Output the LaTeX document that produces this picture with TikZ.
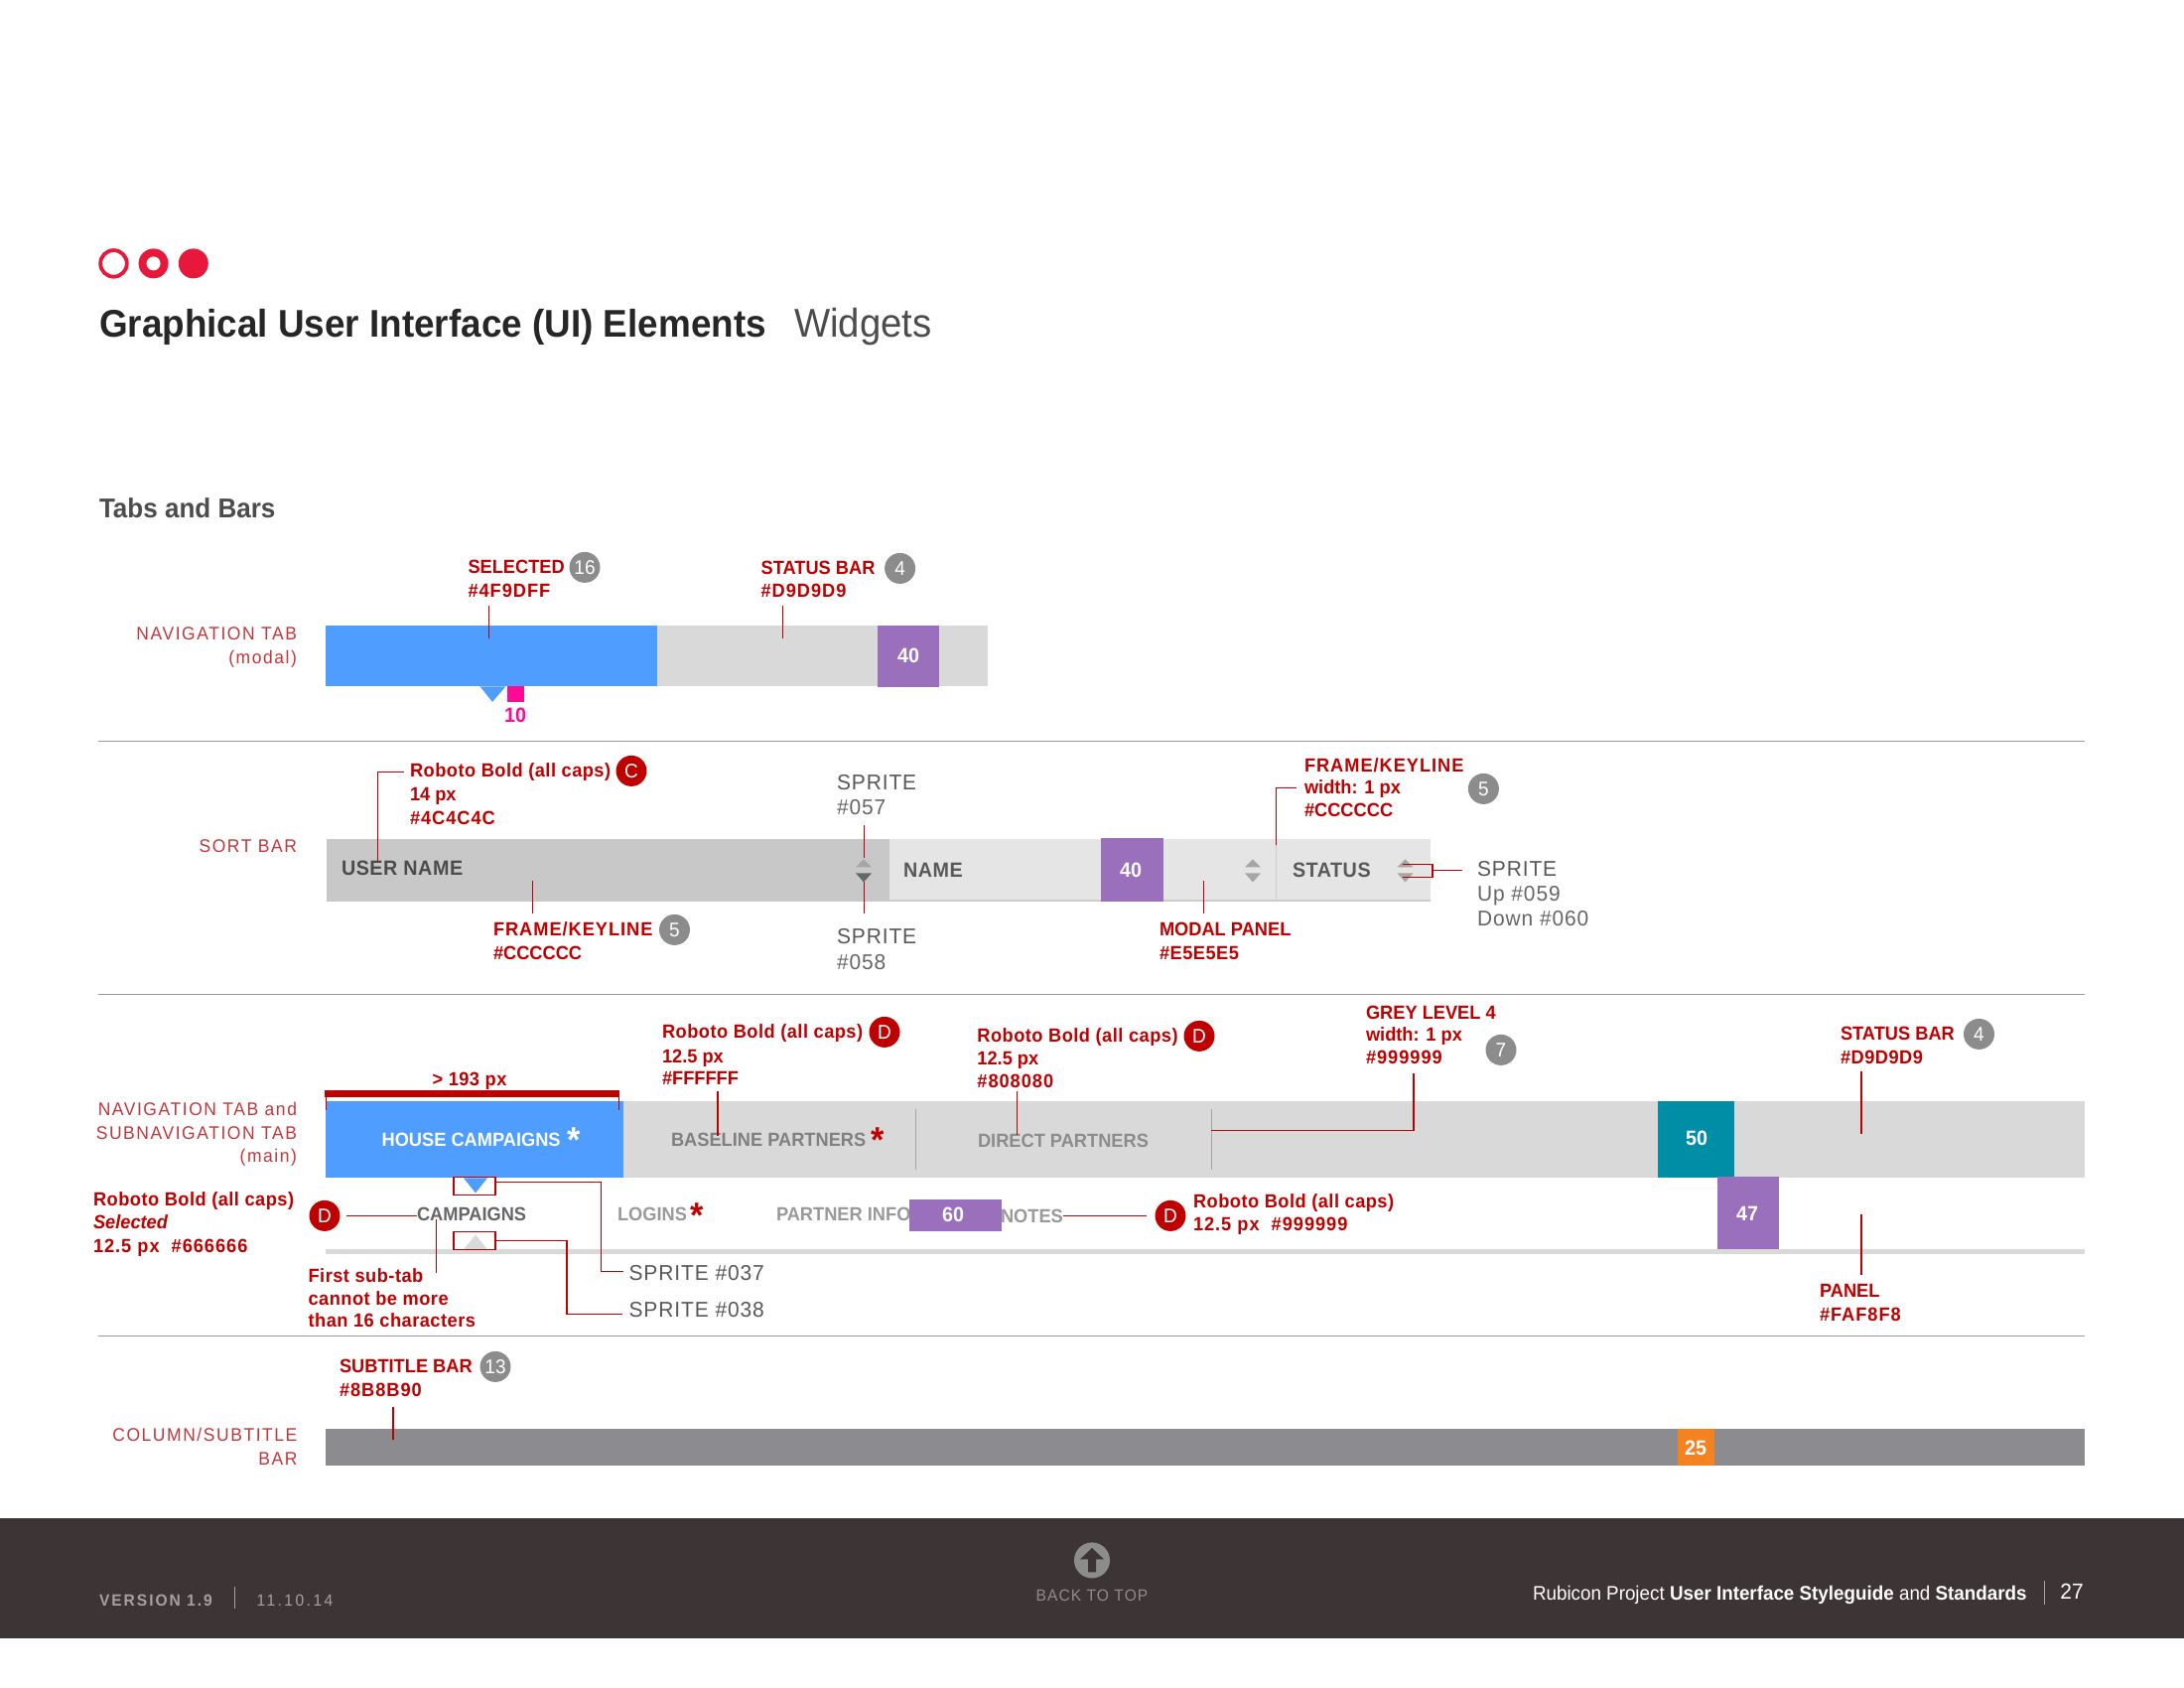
\documentclass[tikz,border=0pt]{standalone}
\usepackage{fontspec}
\setmainfont[FakeStretch=0.95]{Liberation Sans}
\newfontfamily\rspaced[LetterSpace=8.5,FakeStretch=0.95]{Liberation Sans}
\newfontfamily\rbw[LetterSpace=2.5,FakeStretch=0.95]{Liberation Sans}
\newfontfamily\rbh[LetterSpace=5,FakeStretch=0.95]{Liberation Sans}
\newfontfamily\rsp[LetterSpace=4.2,FakeStretch=0.97]{Liberation Sans}
\newfontfamily\rfa[LetterSpace=12,FakeStretch=0.95]{Liberation Sans}
\newfontfamily\rfb[LetterSpace=15,FakeStretch=0.95]{Liberation Sans}
\newfontfamily\rfc[LetterSpace=6.5,FakeStretch=0.95]{Liberation Sans}
\definecolor{rd}{HTML}{BF0000}
\definecolor{rdthin}{HTML}{C1373C}
\definecolor{dotred}{HTML}{E8183C}
\definecolor{bluetab}{HTML}{4F9DFF}
\definecolor{greybar}{HTML}{D9D9D9}
\definecolor{purp}{HTML}{9A6FBB}
\definecolor{keyln}{HTML}{CCCCCC}
\definecolor{modal}{HTML}{E5E5E5}
\definecolor{sortdk}{HTML}{C8C8C8}
\definecolor{teal2}{HTML}{008EA6}
\definecolor{subbar}{HTML}{8B8B90}
\definecolor{orng}{HTML}{F58220}
\definecolor{pinkm}{HTML}{FF0A96}
\definecolor{foot}{HTML}{3D3535}
\definecolor{badgegrey}{HTML}{8C8C8C}
\definecolor{txtgrey}{HTML}{666666}
\definecolor{sprdk}{HTML}{585858}
\definecolor{footgrey}{HTML}{A5A1A1}
\tikzset{
  txt/.style={inner sep=0pt,outer sep=0pt,anchor=west,text height=7pt,text depth=1pt},
  redb/.style={txt,text=rd,font=\fontsize{9.6}{11}\selectfont\bfseries},
  redw/.style={txt,text=rd,font=\fontsize{9.6}{11}\selectfont\rbw\bfseries},
  redh/.style={txt,text=rd,font=\fontsize{9.6}{11}\selectfont\rbh\bfseries},
  redr/.style={txt,anchor=east,text=rdthin,font=\fontsize{9.2}{11}\selectfont\rspaced},
  spr/.style={txt,text=txtgrey,font=\fontsize{10.8}{12}\selectfont\rsp},
  sprk/.style={txt,text=sprdk,font=\fontsize{10.8}{12}\selectfont\rsp},
  sprb/.style={txt,text=txtgrey,font=\fontsize{10.4}{12}\selectfont\rbw\bfseries},
  barb/.style={txt,font=\fontsize{9.6}{11}\selectfont\bfseries},
  num/.style={txt,anchor=center,text=white,font=\fontsize{10.4}{11}\selectfont\bfseries},
  badge/.style={circle,minimum size=15.5pt,inner sep=0pt,outer sep=0pt,text=white,font=\fontsize{10}{11}\selectfont},
  badgeg/.style={badge,fill=badgegrey},
  badger/.style={badge,fill=rd},
  lead/.style={draw=rd,line width=.55pt},
  footl/.style={txt,font=\fontsize{8.2}{10}\selectfont},
  staro/.style={inner sep=0pt,outer sep=0pt,font=\fontsize{18}{18}\selectfont\bfseries}
}
\begin{document}
\begin{tikzpicture}[x=0.5pt,y=-0.5pt]
\useasboundingbox (0,0) rectangle (2200,1700);
\fill[white] (0,0) rectangle (2200,1700);
\begin{scope}[yshift=-.7pt]
% header dots
\draw[dotred,line width=1.9pt,fill=white] (114.5,264) circle (13.3);
\fill[dotred] (154.6,264) circle (15);
\fill[white] (154.6,264) circle (7);
\fill[dotred] (194.8,264) circle (15);
\node[txt,text height=14pt,text=black!85,font=\fontsize{19.4}{24}\selectfont\bfseries] (title) at (100,325) {Graphical User Interface (UI) Elements};
\node[txt,text height=14pt,text=black!70,font=\fontsize{20.2}{24}\selectfont] (subtitle) at (800,325) {Widgets};
\node[txt,text height=10pt,text=black!70,font=\fontsize{13.7}{16}\selectfont\bfseries] (sect) at (100,511) {Tabs and Bars};
% separators
\coordinate (sl1a) at (99,745); \coordinate (sl1b) at (2100,745);
\coordinate (sl2a) at (99,1000); \coordinate (sl2b) at (2100,1000);
\coordinate (sl3a) at (99,1344); \coordinate (sl3b) at (2100,1344);
\draw[black!40,line width=.55pt] (sl1a)--(sl1b) (sl2a)--(sl2b) (sl3a)--(sl3b);
% ---- navigation tab modal
\fill[greybar] (662,629) rectangle (995,690);
\fill[bluetab] (328,629) rectangle (662,690);
\fill[bluetab] (483.6,690) -- (509.4,690) -- (496,705.5) -- cycle;
\fill[pinkm] (511,690) rectangle (528,705.5);
\node[txt,anchor=center,text=pinkm,font=\fontsize{10.4}{12}\selectfont\bfseries] (ten) at (519,720) {10};
\fill[purp] (884,629) rectangle (946,691);
\node[num] (n40a) at (915,660) {40};
\node[redr] (navt) at (299,637) {NAVIGATION TAB};
\node[redr] (navm) at (299,661) {(modal)};
\node[redb] (sel) at (471.5,570) {SELECTED};
\node[redh] (selc) at (471.5,594) {\#4F9DFF};
\node[badgeg] (b16) at (589,570) {16};
\node[redb] (stat1) at (766.6,571) {STATUS BAR};
\node[redh] (stat1c) at (766.6,594) {\#D9D9D9};
\node[badgeg] (b4a) at (906.6,571) {4};
\coordinate (l1a) at (492.7,609); \coordinate (l1b) at (492.7,642);
\coordinate (l2a) at (788.4,609); \coordinate (l2b) at (788.4,642);
\draw[lead] (l1a)--(l1b);
\draw[lead] (l2a)--(l2b);
% ---- sort bar
\fill[keyln] (896,843.3) rectangle (1441,907);
\fill[modal] (896,843.3) rectangle (1441,904.5);
\fill[sortdk] (328.5,843.3) rectangle (896,907);
\fill[purp] (1109,843) rectangle (1172,907);
\draw[black!20,line width=.6pt] (1285.5,843.3) -- (1285.5,905);
\node[num] (n40b) at (1139,876) {40};
\node[sprb,text=black!70] (un) at (344,874) {USER NAME};
\node[sprb,text=black!65] (nm) at (910,876) {NAME};
\node[sprb,text=black!65] (st) at (1302,876) {STATUS};
\fill[black!35] (862,872) -- (878,872) -- (870,864) -- cycle;
\fill[black!60] (862,878) -- (878,878) -- (870,887) -- cycle;
\fill[black!35] (1254,872) -- (1270,872) -- (1262,864) -- cycle;
\fill[black!35] (1254,878) -- (1270,878) -- (1262,887) -- cycle;
\fill[black!35] (1407.5,872) -- (1423.5,872) -- (1415.5,864) -- cycle;
\fill[black!35] (1407.5,878) -- (1423.5,878) -- (1415.5,887) -- cycle;
\node[redr] (sortl) at (299,851) {SORT BAR};
\node[redw] (rbc) at (413,775) {Roboto Bold (all caps)};
\node[redb] (rbc2) at (413,799) {14 px};
\node[redh] (rbc3) at (413,823) {\#4C4C4C};
\node[badger] (bC) at (636,775) {C};
\coordinate (l3a) at (406.5,776); \coordinate (l3b) at (380.5,867);
\draw[lead] (l3a) -| (l3b);
\node[redh] (fk1) at (497,935) {FRAME/KEYLINE};
\node[redb] (fk1c) at (497,959) {\#CCCCCC};
\node[badgeg] (b5a) at (679.5,935) {5};
\coordinate (l4a) at (536.6,886); \coordinate (l4b) at (536.6,919);
\draw[lead] (l4a)--(l4b);
\node[sprk] (s57) at (843,788) {SPRITE};
\node[spr] (s57c) at (843,813) {\#057};
\node[sprk] (s58) at (843,943) {SPRITE};
\node[spr] (s58c) at (843,969) {\#058};
\coordinate (l5a) at (870.8,830); \coordinate (l5b) at (870.8,863);
\coordinate (l6a) at (870.8,887); \coordinate (l6b) at (870.8,919);
\draw[lead] (l5a)--(l5b);
\draw[lead] (l6a)--(l6b);
\node[redh] (fk2) at (1314,770) {FRAME/KEYLINE};
\node[redb] (fk22) at (1314,792) {width: 1 px};
\node[redb] (fk23) at (1314,815) {\#CCCCCC};
\node[badgeg] (b5b) at (1494.4,793) {5};
\coordinate (l7a) at (1306,792); \coordinate (l7b) at (1285.5,850);
\draw[lead] (l7a) -| (l7b);
\node[redb] (mp) at (1168,935) {MODAL PANEL};
\node[redw] (mpc) at (1168,959) {\#E5E5E5};
\coordinate (l8a) at (1212.5,886); \coordinate (l8b) at (1212.5,919);
\draw[lead] (l8a)--(l8b);
\coordinate (br1) at (1413,869); \coordinate (br2) at (1413,882);
\coordinate (br3) at (1443,875); \coordinate (br4) at (1472.5,875);
\draw[lead] (br1) -- (br1 -| br3) -- (br2 -| br3) -- (br2);
\draw[lead] (br3)--(br4);
\node[sprk] (s59) at (1488,875) {SPRITE};
\node[spr] (s59a) at (1488,900) {Up \#059};
\node[spr] (s59b) at (1488,925) {Down \#060};
% ---- main navigation
\fill[greybar] (628,1108) rectangle (2100,1185);
\fill[bluetab] (328,1108) rectangle (628,1185);
\fill[teal2] (1670,1108) rectangle (1747,1185);
\node[num] (n50) at (1709,1146) {50};
\draw[black!35,line width=.5pt] (922,1116)--(922,1177) (1220,1116)--(1220,1177);
\fill[greybar] (328,1257) rectangle (2100,1262);
\node[barb,text=white] (hc) at (384.6,1147) {HOUSE CAMPAIGNS};
\node[staro,text=white] (st1) at (578,1146.5) {*};
\node[barb,text=black!50] (bp) at (676,1147) {BASELINE PARTNERS};
\node[staro,text=rd] (st2) at (884,1146.5) {*};
\node[barb,text=black!45] (dp) at (985,1148) {DIRECT PARTNERS};
\node[barb,text=txtgrey] (cp) at (420,1222) {CAMPAIGNS};
\node[barb,text=black!40] (lg) at (622,1222) {LOGINS};
\node[staro,text=rd] (st3) at (702,1222.5) {*};
\node[barb,text=black!40] (pi) at (782,1222) {PARTNER INFO};
\node[barb,text=black!40] (nt) at (1008,1224) {NOTES};
\fill[purp] (916,1207) rectangle (1009,1239);
\node[num] (n60) at (960,1223) {60};
\fill[purp] (1730,1184) rectangle (1792,1257);
\node[num] (n47) at (1760,1222) {47};
% red measure
\fill[rd] (327,1097) rectangle (624,1104);
\coordinate (t1a) at (328,1104); \coordinate (t1b) at (328,1117);
\coordinate (t2a) at (623.4,1104); \coordinate (t2b) at (623.4,1117);
\draw[rd,line width=.5pt] (t1a)--(t1b) (t2a)--(t2b);
\node[redw,anchor=center] (px) at (473,1086) {> 193 px};
\node[redr] (nv1) at (299,1116) {NAVIGATION TAB and};
\node[redr] (nv2) at (299,1140) {SUBNAVIGATION TAB};
\node[redr] (nv3) at (299,1163) {(main)};
\node[redw] (lf1) at (94,1207) {Roboto Bold (all caps)};
\node[redb,font=\fontsize{9.6}{11}\selectfont\bfseries\itshape] (lf2) at (94,1230) {Selected};
\node[redh] (lf3) at (94,1254) {12.5 px~~\#666666};
\node[badger] (bD1) at (327,1223) {D};
\coordinate (l9) at (420,1223);
\draw[lead] (bD1.east) ++(6,0) coordinate (l9s) (l9s) -- (l9);
% sprite boxes
\fill[bluetab] (467,1185) -- (491,1185) -- (479,1200) -- cycle;
\fill[greybar] (467,1257) -- (491,1257) -- (479,1242) -- cycle;
\node[draw=rd,line width=.55pt,minimum width=21pt,minimum height=9pt,inner sep=0pt,outer sep=0pt] (sb1) at (478,1193) {};
\node[draw=rd,line width=.55pt,minimum width=21pt,minimum height=9pt,inner sep=0pt,outer sep=0pt] (sb2) at (478,1248.5) {};
\node[sprk] (s37) at (633.6,1282) {SPRITE \#037};
\node[sprk] (s38) at (633.6,1319) {SPRITE \#038};
\coordinate (c1a) at (499.4,1189); \coordinate (c1b) at (605.5,1279); \coordinate (c1c) at (628,1279);
\draw[lead] (c1a) -| (c1b) -- (c1c);
\coordinate (c2a) at (499.4,1248); \coordinate (c2b) at (571,1322); \coordinate (c2c) at (627,1322);
\draw[lead] (c2a) -| (c2b) -- (c2c);
\node[redw] (fs1) at (310.6,1284) {First sub-tab};
\node[redw] (fs2) at (310.6,1307) {cannot be more};
\node[redw] (fs3) at (310.6,1329) {than 16 characters};
\coordinate (l10a) at (439.7,1227); \coordinate (l10b) at (439.7,1281);
\draw[lead] (l10a)--(l10b);
\node[redw] (ba1) at (667,1038) {Roboto Bold (all caps)};
\node[redb] (ba2) at (667,1063) {12.5 px};
\node[redb] (ba3) at (667,1085) {\#FFFFFF};
\node[badger] (bD2) at (891,1038) {D};
\coordinate (l11a) at (723,1098); \coordinate (l11b) at (723,1143);
\draw[lead] (l11a)--(l11b);
\node[redw] (dr1) at (984.4,1042) {Roboto Bold (all caps)};
\node[redb] (dr2) at (984.4,1065) {12.5 px};
\node[redh] (dr3) at (984.4,1088) {\#808080};
\node[badger] (bD3) at (1208,1042) {D};
\coordinate (l12a) at (1024.7,1098); \coordinate (l12b) at (1024.7,1142);
\draw[lead] (l12a)--(l12b);
\node[redb] (gl1) at (1376,1019) {GREY LEVEL 4};
\node[redb] (gl2) at (1376,1041) {width: 1 px};
\node[redh] (gl3) at (1376,1064) {\#999999};
\node[badgeg] (b7) at (1512,1056) {7};
\coordinate (l13a) at (1424,1080); \coordinate (l13b) at (1220,1137);
\draw[lead] (l13a) |- (l13b);
\node[redb] (sb1t) at (1854,1040) {STATUS BAR};
\node[redw] (sb1c) at (1854,1064) {\#D9D9D9};
\node[badgeg] (b4b) at (1993.5,1040) {4};
\coordinate (l14a) at (1875,1078); \coordinate (l14b) at (1875,1141);
\draw[lead] (l14a)--(l14b);
\coordinate (l15a) at (1070.6,1223);
\node[badger] (bD4) at (1179,1223) {D};
\coordinate (l15b) at (1155,1223);
\draw[lead] (l15a)--(l15b);
\node[redw] (nr1) at (1202,1209) {Roboto Bold (all caps)};
\node[redh] (nr2) at (1202,1232) {12.5 px~~\#999999};
\node[redb] (pn) at (1833,1299) {PANEL};
\node[redh] (pnc) at (1833,1323) {\#FAF8F8};
\coordinate (l16a) at (1875,1222); \coordinate (l16b) at (1875,1283);
\draw[lead] (l16a)--(l16b);
% ---- subtitle bar
\fill[subbar] (328,1438) rectangle (2100,1475);
\fill[orng] (1690,1438) rectangle (1727,1475);
\node[num] (n25) at (1708,1458) {25};
\node[redr] (cs1) at (299.4,1444) {COLUMN/SUBTITLE};
\node[redr] (cs2) at (299.4,1468) {BAR};
\node[redb] (sbt) at (342,1375) {SUBTITLE BAR};
\node[redh] (sbc) at (342,1399) {\#8B8B90};
\node[badgeg] (b13) at (499,1375) {13};
\coordinate (l17a) at (396,1416); \coordinate (l17b) at (396,1449);
\draw[lead] (l17a)--(l17b);
% ---- footer
\fill[foot] (0,1528) rectangle (2200,1649);
\node[footl,text=footgrey,font=\fontsize{8.2}{10}\selectfont\rfa\bfseries] (ver) at (100,1610) {VERSION 1.9};
\draw[footgrey,line width=.4pt] (236,1597)--(236,1619);
\node[footl,text=footgrey,font=\fontsize{8.2}{10}\selectfont\rfb] (dat) at (258.6,1610) {11.10.14};
\fill[badgegrey] (1100,1570) circle (18);
\fill[foot] (1100,1557.5) -- (1112,1569) -- (1104,1569) -- (1104,1582) -- (1096,1582) -- (1096,1569) -- (1088,1569) -- cycle;
\node[footl,anchor=center,text=badgegrey,font=\fontsize{8.2}{10}\selectfont\rfc] (btt) at (1100,1605) {BACK TO TOP};
\node[footl,text=white,font=\fontsize{9.9}{11}\selectfont] (rub) at (1544,1604) {Rubicon Project \textbf{User Interface Styleguide} and \textbf{Standards}};
\draw[footgrey,line width=.4pt] (2059,1591)--(2059,1615);
\node[footl,anchor=center,text=white,font=\fontsize{11}{12}\selectfont] (pg) at (2087,1603) {27};
\end{scope}
\end{tikzpicture}
\end{document}
